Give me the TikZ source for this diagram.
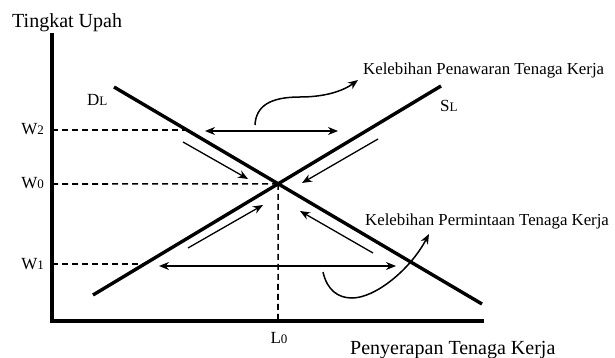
\documentclass[tikz,border=0pt]{standalone}
\usepackage{fontspec}
\setmainfont{Liberation Serif}
\usetikzlibrary{arrows.meta}
\begin{document}
\begin{tikzpicture}[x=1pt,y=-1pt,
  axis/.style={line width=3.6pt},
  curve/.style={line width=3.4pt},
  guide/.style={line width=1.6pt,dash pattern=on 6pt off 4pt},
  arr/.style={line width=1.3pt,-{Stealth[length=10pt,width=8pt]}},
  darr/.style={line width=1.3pt,{Stealth[length=10pt,width=8pt]}-{Stealth[length=10pt,width=8pt]}},
  bendarr/.style={line width=1.5pt,-{Stealth[length=10pt,width=8pt]}},
  big/.style={font=\fontsize{20}{24}\selectfont, inner sep=0pt},
  note/.style={font=\fontsize{16.8}{20}\selectfont, inner sep=0pt},
  lab/.style={font=\fontsize{17}{20}\selectfont, inner sep=0pt},
]
\useasboundingbox (0,0) rectangle (615,358);
\fill[white] (0,0) rectangle (615,358);

% axes
\coordinate (ytop) at (52,33);
\coordinate (O) at (52,321);
\coordinate (xend) at (484,321);
\draw[axis] (ytop) -- (O) -- (xend);

% curves
\coordinate (d1) at (114,87);
\coordinate (d2) at (482,304);
\coordinate (s1) at (93,295);
\coordinate (s2) at (441,86);
\draw[curve] (d1) -- (d2);
\draw[curve] (s1) -- (s2);
\coordinate (E) at (intersection of d1--d2 and s1--s2);

% guide lines
\coordinate (aw2) at (52,130);
\coordinate (pw2) at (187,130);
\coordinate (aw0) at (52,184);
\coordinate (aw1) at (52,264);
\coordinate (pw1) at (144.6,264);
\coordinate (xl0) at (278,321);
\draw[guide] (aw2) -- (pw2);
\draw[guide] (aw0) -- (E);
\draw[guide] (aw1) -- (pw1);
\draw[guide] (E) -- (xl0);

% labels
\node[big, anchor=base west] (ylab) at (12,28) {Tingkat Upah};
\node[big, anchor=base west] (xlab) at (350,354) {Penyerapan Tenaga Kerja};
\node[lab, anchor=base east] (w2) at (44,135) {W{\fontsize{13}{14}\selectfont 2}};
\node[lab, anchor=base east] (w0) at (44,189) {W{\fontsize{13}{14}\selectfont 0}};
\node[lab, anchor=base east] (w1) at (44,269) {W{\fontsize{13}{14}\selectfont 1}};
\node[lab, anchor=base] (l0) at (279,343) {L{\fontsize{13}{14}\selectfont 0}};
\node[lab, anchor=base west] (dl) at (87,106) {D{\fontsize{13}{14}\selectfont L}};
\node[lab, anchor=base west] (sl) at (440,112) {S{\fontsize{13}{14}\selectfont L}};
\node[note, anchor=base west] (kpen) at (363,75) {Kelebihan Penawaran Tenaga Kerja};
\node[note, anchor=base west] (kper) at (365,225) {Kelebihan Permintaan Tenaga Kerja};

% double arrows (excess)
\coordinate (ex2l) at (205,131);
\coordinate (ex2r) at (338,131);
\coordinate (ex1l) at (159,266);
\coordinate (ex1r) at (396,266);
\draw[darr] (ex2l) -- (ex2r);
\draw[darr] (ex1l) -- (ex1r);

% arrows toward equilibrium
\coordinate (a1s) at (183,142);
\coordinate (a1e) at (248,179);
\coordinate (a2s) at (378,139);
\coordinate (a2e) at (302,183);
\coordinate (a3s) at (188,248);
\coordinate (a3e) at (263,205);
\coordinate (a4s) at (373,253);
\coordinate (a4e) at (300,211);
\draw[arr] (a1s) -- (a1e);
\draw[arr] (a2s) -- (a2e);
\draw[arr] (a3s) -- (a3e);
\draw[arr] (a4s) -- (a4e);

% curved pointers
\coordinate (c1s) at (255,125);
\coordinate (c1m) at (300,97);
\coordinate (c1e) at (358,80);
\draw[bendarr] (c1s) .. controls (256,106) and (270,97) .. (c1m)
  .. controls (325,97) and (343,91) .. (c1e);
\coordinate (c2s) at (323,272);
\coordinate (c2m) at (352,298);
\coordinate (c2e) at (429,234);
\draw[bendarr] (c2s) .. controls (327,290) and (338,298) .. (c2m)
  .. controls (375,298) and (410,270) .. (c2e);
\end{tikzpicture}
\end{document}
